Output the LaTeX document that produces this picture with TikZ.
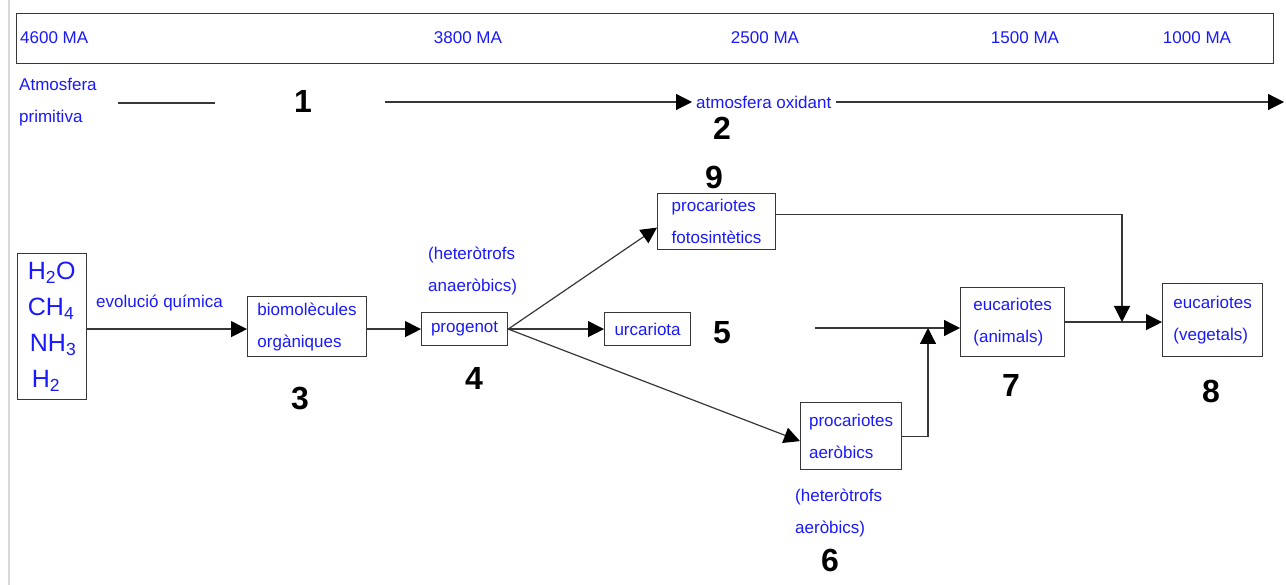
\documentclass[tikz,border=0pt]{standalone}
\usepackage{fontspec}
\setmainfont{Liberation Sans}
\usetikzlibrary{arrows.meta}
\definecolor{txtblue}{RGB}{25,25,250}
\definecolor{linegray}{RGB}{55,55,55}

\begin{document}
\begin{tikzpicture}[x=1pt,y=-1pt,
        lbl/.style={text=txtblue, font=\fontsize{17}{32}\selectfont, inner sep=0, align=left},
        box/.style={lbl, draw=linegray, line width=1.2pt, anchor=north west},
        num/.style={font=\fontsize{32}{32}\selectfont\bfseries, inner sep=0},
        arr/.style={draw=linegray, line width=1.2pt, -{Triangle[length=16pt,width=16pt,color=black]}},
        ln/.style={draw=linegray, line width=1.2pt}]
        \useasboundingbox (0,0) rectangle (1286,585);
        \draw[black!15, line width=2pt] (9,0) -- (9,585);

        % Time line
        \node at (16,13) [ln, anchor=north west, minimum width=1257pt, minimum height=50pt] (era) {};
        \node at (20,38) [lbl, anchor=west] (t4600) {4600 MA};
        \node at (468,38) [lbl] (t3800) {3800 MA};
        \node at (765,38) [lbl] (t2500) {2500 MA};
        \node at (1025,38) [lbl] (t1500) {1500 MA};
        \node at (1197,38) [lbl] (t1000) {1000 MA};

        % Atmosphere
        \node at (19,102) [lbl, anchor=west] (atmprim) {Atmosfera\\primitiva};
        \node at (692,102) [lbl, anchor=west, inner xsep=4pt] (atmox) {atmosfera oxidant};
        \coordinate (a0) at (118,103);
        \coordinate (a1) at (215,103);
        \coordinate (a2) at (385,102);
        \coordinate (a3) at (1284,102);

        % Boxes
        \node at (17,253) [box, minimum width=69pt, minimum height=146pt,
            font=\fontsize{25}{36}\selectfont] (gas)
            {H\textsubscript{2}O\\CH\textsubscript{4}\\\hspace{2pt}NH\textsubscript{3}\\\hspace{4pt}H\textsubscript{2}};
        \node at (247,296) [box, minimum width=119pt, minimum height=60pt] (bio) {biomolècules\\orgàniques};
        \node at (421,312) [box, minimum width=86pt, minimum height=33pt] (prog) {progenot};
        \node at (604,312) [box, minimum width=86pt, minimum height=33pt] (urc) {urcariota};
        \node at (657,193) [box, minimum width=118pt, minimum height=56pt] (fotos) {procariotes\\fotosintètics};
        \node at (800,402) [box, minimum width=101pt, minimum height=67pt] (aerob) {procariotes\\aeròbics};
        \node at (960,287) [box, minimum width=104pt, minimum height=69pt] (anim) {eucariotes\\(animals)};
        \node at (1162,283) [box, minimum width=100pt, minimum height=73pt] (veg) {eucariotes\\(vegetals)};

        % Labels
        \node at (96,303) [lbl, anchor=west] (evol) {evolució química};
        \node at (428,271) [lbl, anchor=west] (anaer) {(heteròtrofs\\anaeròbics)};
        \node at (795,513) [lbl, anchor=west] (aer) {(heteròtrofs\\aeròbics)};

        % Numbers
        \node at (303,101) [num] (n1) {1};
        \node at (722,128) [num] (n2) {2};
        \node at (300,399) [num] (n3) {3};
        \node at (474,378) [num] (n4) {4};
        \node at (722,333) [num] (n5) {5};
        \node at (830,560) [num] (n6) {6};
        \node at (1011,385) [num] (n7) {7};
        \node at (1211,391) [num] (n8) {8};
        \node at (714,177) [num] (n9) {9};

        \coordinate (c5) at (815,328);
        \coordinate (join7) at (928,328);
        \coordinate (join8) at (1122,322);

        % Arrows
        \draw[ln] (a0) -- (a1);
        \draw[arr] (a2) -- (atmox.west);
        \draw[arr] (atmox.east) -- (a3);

        \draw[arr] (gas.east |- prog.west) -- (bio.west |- prog.west);
        \draw[arr] (bio.east |- prog.west) -- (prog.west);
        \draw[arr] (prog.east) -- (urc.west);
        \draw[arr] (prog.east) -- ([yshift=-6pt]fotos.west);
        \draw[arr] (prog.east) -- ([yshift=-5pt]aerob.west);

        \draw[arr] (aerob.east) -| (join7);
        \draw[arr] (c5) -- (c5 -| anim.west);
        \draw[arr] (anim.east) -- (anim.east -| veg.west);
        \draw[arr] ([yshift=7pt]fotos.east) -| (join8);

    \end{tikzpicture}
\end{document}
